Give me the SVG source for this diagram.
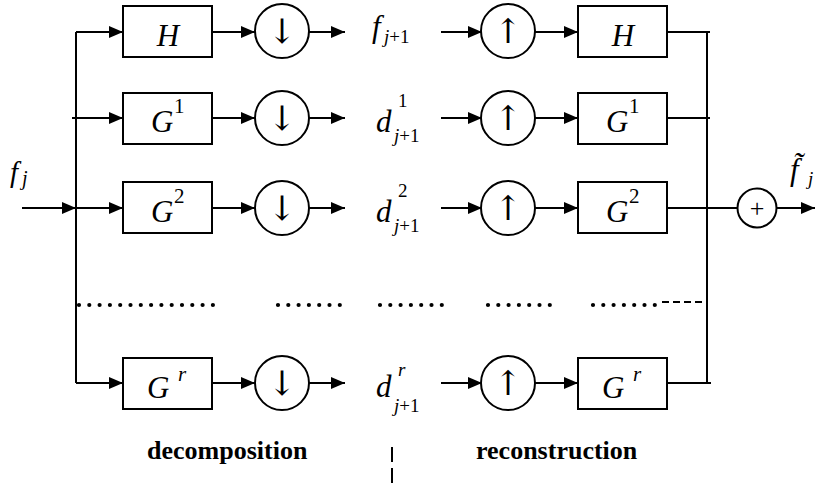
<svg xmlns="http://www.w3.org/2000/svg" width="815" height="487" viewBox="0 0 815 487">
<style>
.box{fill:#fff;stroke:#000;stroke-width:2}
.cir{fill:#fff;stroke:#000;stroke-width:2}
.ln{fill:none;stroke:#000;stroke-width:2}
.dot{fill:none;stroke:#000;stroke-width:4.2;stroke-linecap:round;stroke-dasharray:0 10.3}
.t{font-family:"Liberation Serif","Times New Roman",serif;fill:#000}
.ar{font-family:"DejaVu Serif","Liberation Serif",serif;fill:#000;font-size:34px}
.it{font-style:italic}
.big{font-size:31px}
.sm{font-size:19px}
.lbl{font-size:26px;font-weight:bold}
</style>
<defs>
<marker id="ah" markerWidth="14" markerHeight="12" refX="14" refY="6" orient="auto" markerUnits="userSpaceOnUse">
<path d="M0,0 L14,6 L0,12 Z" fill="#000"/>
</marker>
</defs>
<g id="connectors">
<line class="ln" x1="76" y1="32" x2="76" y2="383"/>
<line class="ln" x1="22" y1="208" x2="76" y2="208" marker-end="url(#ah)"/>
<line class="ln" x1="76" y1="32" x2="123" y2="32" marker-end="url(#ah)"/>
<line class="ln" x1="72" y1="118" x2="123" y2="118" marker-end="url(#ah)"/>
<line class="ln" x1="76" y1="208" x2="123" y2="208" marker-end="url(#ah)"/>
<line class="ln" x1="76" y1="383" x2="123" y2="383" marker-end="url(#ah)"/>
<line class="ln" x1="212" y1="32" x2="255" y2="32" marker-end="url(#ah)"/>
<line class="ln" x1="212" y1="118" x2="255" y2="118" marker-end="url(#ah)"/>
<line class="ln" x1="212" y1="208" x2="255" y2="208" marker-end="url(#ah)"/>
<line class="ln" x1="212" y1="383" x2="255" y2="383" marker-end="url(#ah)"/>
<line class="ln" x1="309" y1="32" x2="345" y2="32" marker-end="url(#ah)"/>
<line class="ln" x1="309" y1="118" x2="345" y2="118" marker-end="url(#ah)"/>
<line class="ln" x1="309" y1="208" x2="345" y2="208" marker-end="url(#ah)"/>
<line class="ln" x1="309" y1="383" x2="345" y2="383" marker-end="url(#ah)"/>
<line class="ln" x1="441" y1="32" x2="482" y2="32" marker-end="url(#ah)"/>
<line class="ln" x1="441" y1="118" x2="482" y2="118" marker-end="url(#ah)"/>
<line class="ln" x1="441" y1="208" x2="482" y2="208" marker-end="url(#ah)"/>
<line class="ln" x1="441" y1="383" x2="482" y2="383" marker-end="url(#ah)"/>
<line class="ln" x1="535" y1="32" x2="578" y2="32" marker-end="url(#ah)"/>
<line class="ln" x1="535" y1="118" x2="578" y2="118" marker-end="url(#ah)"/>
<line class="ln" x1="535" y1="208" x2="578" y2="208" marker-end="url(#ah)"/>
<line class="ln" x1="535" y1="383" x2="578" y2="383" marker-end="url(#ah)"/>
<line class="ln" x1="707" y1="32" x2="707" y2="384"/>
<line class="ln" x1="664" y1="32" x2="710" y2="32"/>
<line class="ln" x1="664" y1="118" x2="710" y2="118"/>
<line class="ln" x1="664" y1="208" x2="738" y2="208"/>
<line class="ln" x1="664" y1="383" x2="711" y2="383"/>
<line class="ln" x1="777" y1="208" x2="815" y2="208" marker-end="url(#ah)"/>
<line class="dot" x1="79" y1="305" x2="217" y2="305"/>
<line class="dot" x1="278" y1="305" x2="341" y2="305"/>
<line class="dot" x1="380" y1="305" x2="443" y2="305"/>
<line class="dot" x1="488" y1="305" x2="551" y2="305"/>
<line class="dot" x1="593" y1="305" x2="656" y2="305"/>
<line class="ln" x1="662" y1="302" x2="707" y2="302" stroke-dasharray="7 4"/>
<line class="ln" x1="392" y1="447" x2="392" y2="462"/>
<line class="ln" x1="392" y1="468" x2="392" y2="483"/>
</g>
<g id="H_dec"><rect class="box" x="123" y="6" width="89" height="51"/><text class="t it big" x="168" y="46" text-anchor="middle">H</text></g>
<g id="G1_dec"><rect class="box" x="123" y="93" width="89" height="51"/><text class="t it big" x="151" y="132">G</text><text class="t" font-size="21" x="174" y="113">1</text></g>
<g id="G2_dec"><rect class="box" x="123" y="182" width="89" height="51"/><text class="t it big" x="151" y="222">G</text><text class="t" font-size="21" x="174" y="203">2</text></g>
<g id="Gr_dec"><rect class="box" x="123" y="358" width="89" height="51"/><text class="t it big" x="147" y="398">G</text><text class="t it" font-size="21" x="178" y="381">r</text></g>
<g id="down1"><circle class="cir" cx="282" cy="31" r="27"/><text class="ar" x="282" y="43" text-anchor="middle">↓</text></g>
<g id="down2"><circle class="cir" cx="282" cy="118" r="27"/><text class="ar" x="282" y="130" text-anchor="middle">↓</text></g>
<g id="down3"><circle class="cir" cx="282" cy="208" r="27"/><text class="ar" x="282" y="220" text-anchor="middle">↓</text></g>
<g id="downr"><circle class="cir" cx="282" cy="383" r="27"/><text class="ar" x="282" y="395" text-anchor="middle">↓</text></g>
<g id="fj1"><text class="t it big" x="372" y="37">f</text><text class="t sm" x="384" y="43"><tspan class="it">j</tspan>+1</text></g>
<g id="d1"><text class="t it big" x="376" y="132">d</text><text class="t sm" x="398" y="107">1</text><text class="t sm" x="394" y="142"><tspan class="it">j</tspan>+1</text></g>
<g id="d2"><text class="t it big" x="376" y="222">d</text><text class="t sm" x="398" y="197">2</text><text class="t sm" x="394" y="232"><tspan class="it">j</tspan>+1</text></g>
<g id="dr"><text class="t it big" x="376" y="397">d</text><text class="t sm it" x="398" y="376">r</text><text class="t sm" x="394" y="412"><tspan class="it">j</tspan>+1</text></g>
<g id="up1"><circle class="cir" cx="508" cy="31" r="27"/><text class="ar" x="508" y="43" text-anchor="middle">↑</text></g>
<g id="up2"><circle class="cir" cx="508" cy="118" r="27"/><text class="ar" x="508" y="130" text-anchor="middle">↑</text></g>
<g id="up3"><circle class="cir" cx="508" cy="208" r="27"/><text class="ar" x="508" y="220" text-anchor="middle">↑</text></g>
<g id="upr"><circle class="cir" cx="508" cy="383" r="27"/><text class="ar" x="508" y="395" text-anchor="middle">↑</text></g>
<g id="H_rec"><rect class="box" x="578" y="6" width="89" height="51"/><text class="t it big" x="623" y="46" text-anchor="middle">H</text></g>
<g id="G1_rec"><rect class="box" x="578" y="93" width="89" height="51"/><text class="t it big" x="606" y="132">G</text><text class="t" font-size="21" x="629" y="113">1</text></g>
<g id="G2_rec"><rect class="box" x="578" y="182" width="89" height="51"/><text class="t it big" x="606" y="222">G</text><text class="t" font-size="21" x="629" y="203">2</text></g>
<g id="Gr_rec"><rect class="box" x="578" y="358" width="89" height="51"/><text class="t it big" x="602" y="398">G</text><text class="t it" font-size="21" x="633" y="381">r</text></g>
<g id="sum"><circle class="cir" cx="757" cy="208" r="19.5"/><text class="t" font-size="26" x="757" y="217" text-anchor="middle">+</text></g>
<g id="input"><text class="t it" font-size="29" x="10" y="182">f</text><text class="t it" font-size="20" x="22" y="185">j</text></g>
<g id="output"><text class="t it big" x="790" y="180">f̃</text><text class="t it sm" x="808" y="185">j</text></g>
<g id="labels"><text class="t lbl" x="147" y="459">decomposition</text><text class="t lbl" x="476" y="459">reconstruction</text></g>
</svg>
